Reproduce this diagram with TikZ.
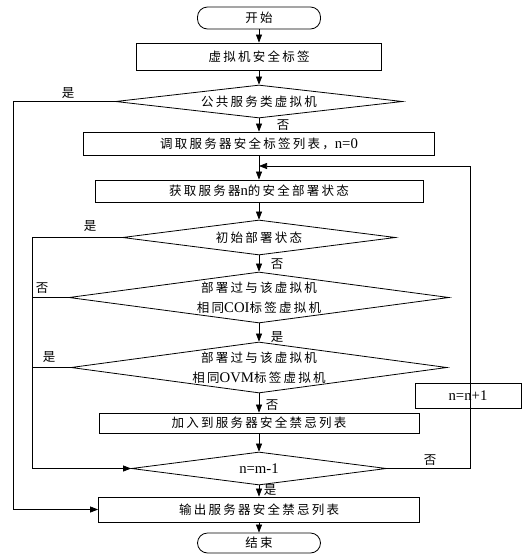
\documentclass[tikz,border=0pt]{standalone}
\usepackage{fontspec}
\setmainfont[Scale=1.18]{Liberation Serif}
\newfontfamily\cjk[LetterSpace=18]{Noto Sans CJK SC}
\usetikzlibrary{shapes.geometric,arrows.meta}
\begin{document}
\begin{tikzpicture}[x=1pt,y=-1pt,
  every node/.style={font=\fontsize{12.5}{20}\selectfont},
  box/.style={draw,line width=0.8pt,inner sep=0pt,rectangle},
  term/.style={draw,line width=0.8pt,inner sep=0pt,rectangle,rounded corners=10pt},
  dec/.style={draw,line width=0.8pt,inner sep=0pt,diamond,align=center},
  arr/.style={line width=0.7pt,-{Triangle[length=8pt,width=6pt]}},
  ln/.style={line width=0.7pt},
  lab/.style={inner sep=0pt}]
\useasboundingbox (0,0) rectangle (522,555);
\node[term,minimum width=123pt,minimum height=22pt] (start) at (259,18) {\cjk 开始};
\node[box,minimum width=245pt,minimum height=27pt] (b1) at (259,56.5) {\cjk 虚拟机安全标签};
\node[dec,shape aspect=8.7,minimum width=287pt,minimum height=33pt] (d1) at (259,101.5) {\cjk 公共服务类虚拟机};
\node[box,minimum width=351pt,minimum height=23pt] (b2) at (259,143.5) {{\cjk 调取服务器安全标签列表，}n=0};
\node[box,minimum width=328pt,minimum height=22pt] (b3) at (259,191) {{\cjk 获取服务器}n{\cjk 的安全部署状态}};
\node[dec,shape aspect=7.8,minimum width=273pt,minimum height=35pt] (d2) at (259,237.5) {\cjk 初始部署状态};
\node[dec,shape aspect=7.45,minimum width=380pt,minimum height=51pt] (d3) at (259,297.5) {{\cjk 部署过与该虚拟机}\\{\cjk 相同}COI{\cjk 标签虚拟机}};
\node[dec,shape aspect=7.37,minimum width=376pt,minimum height=51pt] (d4) at (259,367.5) {{\cjk 部署过与该虚拟机}\\{\cjk 相同}OVM{\cjk 标签虚拟机}};
\node[box,minimum width=320pt,minimum height=20pt] (b4) at (259,423) {\cjk 加入到服务器安全禁忌列表};
\node[dec,shape aspect=7.7,minimum width=255pt,minimum height=33pt] (d5) at (259,468.5) {n=m-1};
\node[box,minimum width=321pt,minimum height=25pt] (out) at (259,509.5) {\cjk 输出服务器安全禁忌列表};
\node[term,minimum width=123pt,minimum height=20pt] (end) at (259,543) {\cjk 结束};
\node[box,minimum width=106pt,minimum height=25pt] (inc) at (468,395.5) {n=n+1};
\coordinate (L1) at (13,0);
\coordinate (L2) at (32,0);
\coordinate (R) at (470,166);
\coordinate (J) at (259,166);
% main axis
\draw[arr] (start.south) -- (b1.north);
\draw[arr] (b1.south) -- (d1.north);
\draw[arr] (d1.south) -- (b2.north);
\draw[arr] (b2.south) -- (b3.north);
\draw[arr] (b3.south) -- (d2.north);
\draw[arr] (d2.south) -- (d3.north);
\draw[arr] (d3.south) -- (d4.north);
\draw[arr] (d4.south) -- (b4.north);
\draw[arr] (b4.south) -- (d5.north);
\draw[arr] (d5.south) -- (out.north);
\draw[arr] (out.south) -- (end.north);
% left branches
\draw[arr] (d1.west) -- (d1.west -| L1) |- (out.west);
\draw[arr] (d2.west) -- (d2.west -| L2) |- (d5.west);
\draw[ln] (d3.west) -- (d3.west -| L2);
\draw[ln] (d4.west) -- (d4.west -| L2);
% loop
\draw[arr] (d5.east) -| (R) -- (J);
% labels
\node[lab] at (68,93) {\cjk 是};
\node[lab] at (283,125) {\cjk 否};
\node[lab] at (90,226) {\cjk 是};
\node[lab] at (277,264) {\cjk 否};
\node[lab] at (42,288) {\cjk 否};
\node[lab] at (277,337) {\cjk 是};
\node[lab] at (49,357) {\cjk 是};
\node[lab] at (272,405) {\cjk 否};
\node[lab] at (430,460) {\cjk 否};
\node[lab] at (270,490) {\cjk 是};
\end{tikzpicture}
\end{document}
